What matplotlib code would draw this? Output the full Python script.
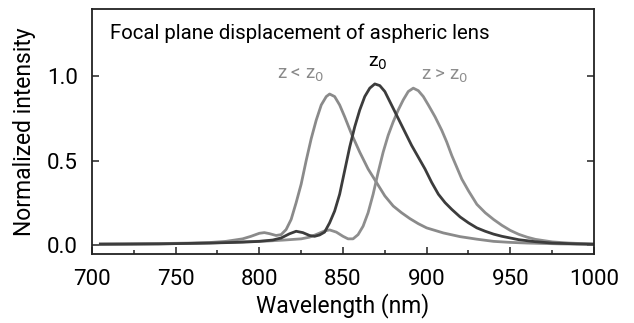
import matplotlib
matplotlib.use("Agg")
import matplotlib.pyplot as plt
from matplotlib.ticker import MultipleLocator

plt.rcParams['font.family'] = ['Roboto', 'DejaVu Sans']

# z < z0 spectrum
wl_lt = [705, 720, 740, 760, 770, 780, 790, 795, 800, 803, 806, 810, 813, 816, 819, 822,
         825, 828, 831, 834, 837, 840, 842, 845, 848, 851, 855, 860, 865, 870, 875, 880,
         885, 890, 895, 900, 905, 910, 920, 930, 940, 950, 960, 980, 1000]
int_lt = [0.005, 0.005, 0.007, 0.010, 0.013, 0.020, 0.035, 0.050, 0.068, 0.072, 0.066, 0.055,
          0.060, 0.090, 0.150, 0.250, 0.360, 0.500, 0.630, 0.740, 0.830, 0.880, 0.895, 0.880,
          0.830, 0.760, 0.660, 0.550, 0.450, 0.370, 0.290, 0.230, 0.190, 0.155, 0.125, 0.100,
          0.085, 0.070, 0.048, 0.033, 0.020, 0.014, 0.010, 0.005, 0.003]

# z0 spectrum
wl_0 = [705, 740, 770, 790, 800, 808, 813, 818, 822, 826, 830, 833, 836, 839, 842, 845, 848,
        851, 854, 857, 860, 863, 866, 869, 872, 875, 879, 883, 887, 891, 895, 899, 903, 907,
        911, 915, 920, 925, 930, 935, 940, 945, 950, 955, 965, 975, 990, 1000]
int_0 = [0.003, 0.005, 0.010, 0.015, 0.020, 0.028, 0.040, 0.065, 0.080, 0.072, 0.055, 0.050,
         0.058, 0.075, 0.130, 0.200, 0.300, 0.440, 0.580, 0.700, 0.800, 0.880, 0.930, 0.955,
         0.945, 0.910, 0.830, 0.750, 0.670, 0.590, 0.520, 0.450, 0.370, 0.300, 0.250, 0.210,
         0.165, 0.130, 0.100, 0.080, 0.063, 0.050, 0.040, 0.030, 0.018, 0.010, 0.005, 0.003]

# z > z0 spectrum
wl_gt = [705, 740, 770, 790, 805, 815, 825, 830, 835, 839, 842, 846, 850, 853, 856, 859, 862,
         865, 868, 871, 874, 877, 880, 883, 886, 889, 892, 895, 898, 901, 905, 909, 912, 915,
         918, 921, 925, 930, 935, 940, 945, 950, 955, 960, 965, 975, 985, 1000]
int_gt = [0.003, 0.005, 0.010, 0.018, 0.022, 0.028, 0.035, 0.045, 0.065, 0.082, 0.088, 0.075,
          0.050, 0.035, 0.035, 0.060, 0.110, 0.190, 0.300, 0.430, 0.550, 0.650, 0.730, 0.800,
          0.860, 0.910, 0.930, 0.915, 0.880, 0.830, 0.760, 0.680, 0.610, 0.530, 0.460, 0.390,
          0.320, 0.240, 0.190, 0.150, 0.115, 0.085, 0.062, 0.045, 0.032, 0.017, 0.010, 0.004]

labels = ['z < z$_0$', 'z$_0$', 'z > z$_0$']
label_pos = [(824.5, 1.01), (871, 1.08), (911, 1.005)]
colors = ['#8a8a8a', '#3c3c3c', '#8e8e8e']
title = 'Focal plane displacement of aspheric lens'

fig = plt.figure(figsize=(6.34, 3.23), dpi=100)
ax = fig.add_axes([92/634, 1-254/323, 502/634, 245/323])

for wl, it, c in [(wl_lt, int_lt, colors[0]), (wl_gt, int_gt, colors[2]), (wl_0, int_0, colors[1])]:
    ax.plot(wl, it, color=c, lw=2.0)

for lab, (x, y), c, fs in zip(labels, label_pos, [colors[0], 'black', colors[2]], [13.5, 14, 13.5]):
    ax.text(x, y, lab, color=c, fontsize=fs, ha='center', va='center')

ax.text(0.036, 0.9, title, transform=ax.transAxes, fontsize=14.7, ha='left', va='center')

ax.set_xlim(700, 1000)
ax.set_ylim(-0.055, 1.40)
ax.set_xticks([700, 750, 800, 850, 900, 950, 1000])
ax.xaxis.set_minor_locator(MultipleLocator(25))
ax.set_yticks([0.0, 0.5, 1.0])
ax.tick_params(axis='both', which='both', direction='in', labelsize=16, width=1.1, colors='#222222')
ax.tick_params(axis='both', which='major', length=5)
ax.tick_params(axis='x', which='minor', length=3)
ax.tick_params(axis='y', right=True, which='major', pad=10)
ax.tick_params(axis='x', pad=11)
for lbl in ax.get_xticklabels() + ax.get_yticklabels():
    lbl.set_color('black')
for s in ax.spines.values():
    s.set_linewidth(1.3)
    s.set_color('#222222')

ax.set_xlabel('Wavelength (nm)', fontsize=16.5, labelpad=2)
ax.set_ylabel('Normalized intensity', fontsize=16.5, labelpad=8)

fig.savefig('out.png', dpi=100)
